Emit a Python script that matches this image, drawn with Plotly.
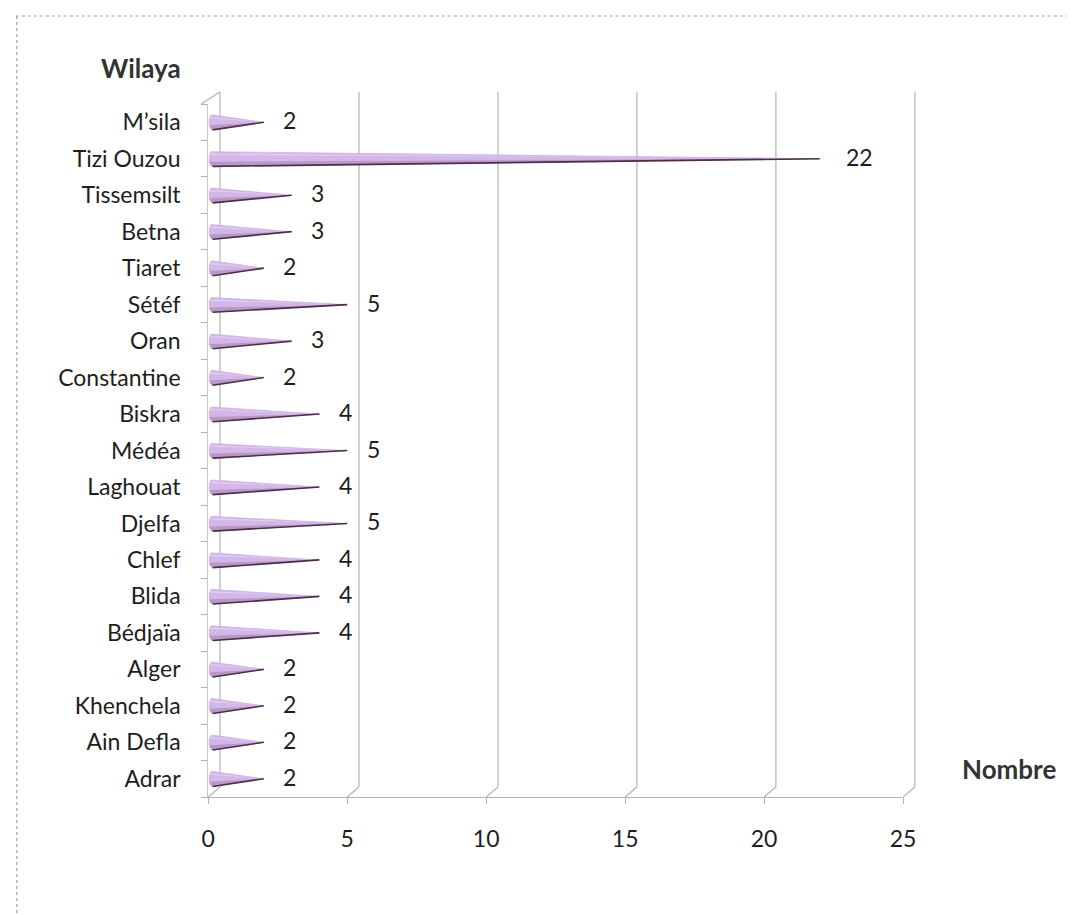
import numpy as np
import plotly.graph_objects as go

# Wilayas listed bottom to top, with their counts
wilayas = ["Adrar", "Ain Defla", "Khenchela", "Alger", "Bédjaïa", "Blida", "Chlef",
           "Djelfa", "Laghouat", "Médéa", "Biskra", "Constantine", "Oran", "Sétéf",
           "Tiaret", "Betna", "Tissemsilt", "Tizi Ouzou", "M’sila"]
nombre = [2, 2, 2, 2, 4, 4, 4, 5, 4, 5, 4, 2, 3, 5, 2, 3, 3, 22, 2]
x_ticks = [0, 5, 10, 15, 20, 25]

W, H = 1080, 915
FONT = "Lato, 'Open Sans', sans-serif"
TXT = "#1e1e1e"
GRID = "#b3b3b3"

# pixel geometry of the front floor and the back wall (3D offset)
fx0, fx1 = 205, 913          # front x-axis span (0..25)
fy0, fy1 = 797, 104          # front category span
dx, dy = 12, 10              # depth offset to the back wall
unit = (fx1 - fx0) / 25.0


def px(x):
    return x / W


def py(y):
    return 1 - y / H


fig = go.Figure()

# cones: elliptic base near 0, tip at the value
h = 0.21
rx = 0.13
bx = 0.16
t = np.linspace(np.pi / 2, 3 * np.pi / 2, 25)
for i, v in enumerate(nombre):
    yc = i
    arc_x = bx + rx * np.cos(t)
    arc_y = yc + h * np.sin(t)
    # body
    xs = np.concatenate([[v], arc_x, [v]])
    ys = np.concatenate([[yc], arc_y, [yc]])
    fig.add_trace(go.Scatter(x=xs, y=ys, mode="lines", fill="toself",
                             fillcolor="#d4b7e9", line=dict(color="#c7a4dd", width=0.6),
                             hoverinfo="skip", showlegend=False))
    # soft shade on the lower side
    sx = np.concatenate([[v], bx + rx * np.cos(t[15:]), [v]])
    sy = np.concatenate([[yc - h * 0.02], yc + h * np.sin(t[15:]), [yc - h * 0.02]])
    fig.add_trace(go.Scatter(x=sx, y=sy, mode="lines", fill="toself",
                             fillcolor="#b898c6", line=dict(width=0),
                             hoverinfo="skip", showlegend=False))
    # light highlight on the upper side
    hx = np.concatenate([[v * 0.85], bx + rx * np.cos(t[2:8]), [v * 0.85]])
    hy = np.concatenate([[yc + h * 0.12], yc + h * 0.8 * np.sin(t[2:8]), [yc + h * 0.12]])
    fig.add_trace(go.Scatter(x=hx, y=hy, mode="lines", fill="toself",
                             fillcolor="#e2cdf1", line=dict(width=0),
                             hoverinfo="skip", showlegend=False))
    # dark lower rim
    fig.add_trace(go.Scatter(x=[bx, v], y=[yc - h, yc], mode="lines",
                             line=dict(color="#4a2f45", width=1.6),
                             hoverinfo="skip", showlegend=False))

# value labels
for i, v in enumerate(nombre):
    fig.add_annotation(x=v, y=i, text=str(v), showarrow=False, xanchor="center",
                       xshift=26 if v < 10 else 40, yshift=2,
                       font=dict(family=FONT, size=23, color=TXT))

shapes = []
# back wall gridlines (value ticks) and the wall's left edge
for tv in x_ticks:
    xb = fx0 + dx + tv * unit
    shapes.append(dict(type="line", xref="paper", yref="paper", layer="below",
                       x0=px(xb), y0=py(fy0 - dy), x1=px(xb), y1=py(fy1 - dy - 2),
                       line=dict(color=GRID, width=1.2)))
# depth connectors on the floor for each x tick
for tv in x_ticks:
    xf = fx0 + tv * unit
    shapes.append(dict(type="line", xref="paper", yref="paper", layer="below",
                       x0=px(xf), y0=py(fy0), x1=px(xf + dx), y1=py(fy0 - dy),
                       line=dict(color=GRID, width=1.2)))
# top-left corner connector of the side wall
shapes.append(dict(type="line", xref="paper", yref="paper", layer="below",
                   x0=px(fx0 - 7), y0=py(fy1), x1=px(fx0 + dx), y1=py(fy1 - dy - 2),
                   line=dict(color=GRID, width=1.2)))
# chart frame (top and left edges)
shapes.append(dict(type="line", xref="paper", yref="paper",
                   x0=px(9), y0=py(16), x1=1, y1=py(16),
                   line=dict(color="#a0a0a0", width=1.2, dash="dot")))
shapes.append(dict(type="line", xref="paper", yref="paper",
                   x0=px(10), y0=py(16), x1=px(10), y1=0,
                   line=dict(color="#a0a0a0", width=1.2, dash="dot")))

fig.update_layout(
    width=W, height=H, autosize=False,
    margin=dict(l=0, r=0, t=0, b=0),
    paper_bgcolor="white", plot_bgcolor="rgba(0,0,0,0)",
    showlegend=False,
    shapes=shapes,
    xaxis=dict(domain=[px(fx0), px(fx1)], range=[0, 25], anchor="y",
               tickvals=x_ticks, ticktext=[str(v) for v in x_ticks],
               showgrid=False, zeroline=False, showline=True, linecolor=GRID,
               linewidth=1.2,
               ticks="outside", ticklen=6, tickcolor=GRID, ticklabelstandoff=15,
               tickfont=dict(family=FONT, size=23, color=TXT)),
    yaxis=dict(domain=[py(fy0), py(fy1)], range=[-0.5, len(wilayas) - 0.5], anchor="x",
               tickvals=list(range(len(wilayas))), ticktext=wilayas,
               showgrid=False, zeroline=False, showline=True, linecolor="#c8c8c8",
               ticks="", ticklabelstandoff=22,
               minor=dict(tick0=-0.5, dtick=1, ticks="outside", ticklen=6, tickcolor=GRID),
               tickfont=dict(family=FONT, size=23, color=TXT)),
    annotations=list(fig.layout.annotations) + [
        dict(text="<b>Wilaya</b>", xref="paper", yref="paper", x=px(179), y=py(68),
             xanchor="right", yanchor="middle", showarrow=False,
             font=dict(family=FONT, size=26, color="#333333")),
        dict(text="<b>Nombre</b>", xref="paper", yref="paper", x=px(1071), y=py(769),
             xanchor="right", yanchor="middle", showarrow=False,
             font=dict(family=FONT, size=26, color="#333333")),
    ],
)

fig.write_html("out.html")
